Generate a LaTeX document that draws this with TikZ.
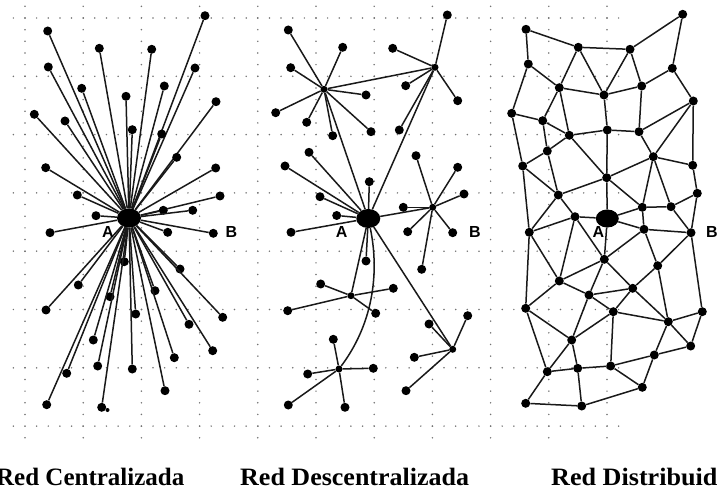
\documentclass[tikz,border=0pt]{standalone}
\usepackage{fontspec}
\setmainfont{Liberation Serif}
\newfontfamily\labsans{Liberation Sans}
\usetikzlibrary{shapes.geometric}
\begin{document}
\begin{tikzpicture}[x=1pt,y=-1pt,
 leaf/.style={circle,fill=black,inner sep=0pt,minimum size=9pt},
 sub/.style={circle,fill=black,inner sep=0pt,minimum size=7pt},
 tiny/.style={circle,fill=black,inner sep=0pt,minimum size=4pt},
 hubnode/.style={ellipse,fill=black,inner sep=0pt,minimum width=24pt,minimum height=19pt},
 link/.style={draw=black!90,line width=1.5pt},
 lab/.style={font=\labsans\bfseries\fontsize{16}{16}\selectfont,inner sep=0pt},
 title/.style={font=\bfseries\fontsize{25}{25}\selectfont,anchor=base west,inner sep=0pt},
 griddot/.style={fill=black!55}]
\useasboundingbox (0,0) rectangle (718,489);
% dotted grid
\foreach \r in {0,...,7} \foreach \j in {-1,...,51}
  \fill[griddot] ({25+11.64*\j},{18+58.3*\r}) circle (0.85pt);
\foreach \c in {0,...,10} \foreach \j in {-1,...,36}
  \fill[griddot] ({25+58.2*\c},{18+11.66*\j}) circle (0.85pt);

% ---------------- centralized ----------------
\node[hubnode] (ch) at (129,218) {};
\foreach \n/\x/\y in {1/205/15.7,2/47.7/31,3/99.3/48.3,4/151.7/49.3,5/48.3/67,6/195/68,
 7/81.7/88.3,8/164.3/86,9/126/96.3,10/216/101.7,11/34.3/114.3,12/65/121,13/132.3/129.7,
 14/161.7/134,15/176.7/157.3,16/45.7/167.7,17/215.7/168,18/77.3/195,19/220/196,
 20/163.3/210.3,21/192.7/210.3,22/96/215.7,24/50/232.7,25/167.7/232.3,26/213.3/233.3,
 27/124.3/261.7,28/180/269,29/78.3/285,30/110/296.7,31/155/290.7,32/46/310,
 33/135.7/314,34/222.7/317.3,35/189/324.3,36/93.3/340,37/212.7/350.7,38/174.3/357.7,
 39/97.7/366,40/132.3/369,41/66.7/373.3,42/165/390.7,43/46.7/404.7,44/101.7/407.3}
{
  \node[leaf] (c\n) at (\x,\y) {};
  \draw[link] (ch) -- (c\n);
}
\node[tiny] (cx) at (107.5,410) {};
\node[lab] (ca) at (108,232) {A};
\node[lab] (cb) at (231.5,232) {B};

% ---------------- decentralized ----------------
\node[hubnode] (m) at (368.3,218.5) {};
\node[sub] (h1) at (324,89.3) {};
\node[sub] (h2) at (435,67.3) {};
\node[sub] (h3) at (432.7,207.3) {};
\node[sub] (h4) at (351,295.7) {};
\node[sub] (h5) at (339,369) {};
\node[sub] (h6) at (452.7,349.3) {};
\draw[link] (m) -- (h1);
\draw[link] (m) -- (h2);
\draw[link] (m) -- (h3);
\draw[link] (m) -- (h4);
\draw[link] (m) -- (h6);
\draw[link] (h1) -- (h2);
\draw[link] (m) .. controls (380,275) and (372,325) .. (h5);
\foreach \n/\x/\y in {1/288.3/30,2/342.7/47.3,3/290.7/67.7,4/366/95,5/275.7/112.7,
 6/306.7/122.3,7/332.7/135.7,8/371/131.7}
{ \node[leaf] (ha\n) at (\x,\y) {}; \draw[link] (h1) -- (ha\n); }
\foreach \n/\x/\y in {1/447.3/15,2/392.7/48.3,3/405.7/85.7,4/457.7/100.7,5/399.3/130}
{ \node[leaf] (hb\n) at (\x,\y) {}; \draw[link] (h2) -- (hb\n); }
\foreach \n/\x/\y in {1/309/152.3,2/285/166,3/369.3/181.7,4/320/196.7,5/336.7/215.5,
 6/291/232.3,7/366/261}
{ \node[leaf] (ma\n) at (\x,\y) {}; \draw[link] (m) -- (ma\n); }
\foreach \n/\x/\y in {1/416/155.7,2/457.7/167.3,3/464/194,4/403.3/207.3,5/407.7/231.7,
 6/452.7/232.7,7/421.7/269.3}
{ \node[leaf] (hc\n) at (\x,\y) {}; \draw[link] (h3) -- (hc\n); }
\foreach \n/\x/\y in {1/320.7/284,2/393.3/288.3,3/287.7/310.7,4/375.7/313.3}
{ \node[leaf] (hd\n) at (\x,\y) {}; \draw[link] (h4) -- (hd\n); }
\foreach \n/\x/\y in {1/333.3/339.3,2/307.7/374,3/373.3/368.3,4/288.3/405,5/345/407.3}
{ \node[leaf] (he\n) at (\x,\y) {}; \draw[link] (h5) -- (he\n); }
\foreach \n/\x/\y in {1/467.7/315.7,2/429/324,3/414.3/357.3,4/406/390.7}
{ \node[leaf] (hf\n) at (\x,\y) {}; \draw[link] (h6) -- (hf\n); }
\node[lab] (ma) at (341.7,232) {A};
\node[lab] (mb) at (475,232) {B};

% ---------------- distributed ----------------
\node[hubnode,minimum width=23pt,minimum height=18pt] (da) at (607.3,218.5) {};
\foreach \n/\x/\y in {1/526/29.3,2/682.7/14.3,3/578.3/47.3,4/630/49.3,5/528.3/64,
 6/672.3/68.3,7/559.3/87.7,8/604/95,9/641.7/86,10/693.3/101,11/511.7/113.3,
 12/542.7/120.7,13/569.3/135.3,14/607.3/130,15/639/131.7,16/547.3/151,17/653.3/156.7,
 18/522.7/166,19/692.7/165.3,20/606.7/177.7,21/558.3/195,22/697.3/193.3,
 23/642.3/207.3,24/671/206.7,25/575/216.7}
{ \node[leaf] (d\n) at (\x,\y) {}; }
\foreach \n/\x/\y in {1/529.3/232.3,2/644/229.3,3/691/232.7,4/604.3/259.3,5/657.7/265.7,
 6/559.3/281,7/632.7/288.3,8/589/295,9/525.7/308.3,10/613.3/311.7,11/702.3/311.7,
 12/668.3/321.7,13/571.7/340,14/690.7/346,15/654.3/355,16/547.3/371.7,17/577.7/368.3,
 18/610.7/366,19/642.3/387.3,20/525.7/403.3,21/581.7/406}
{ \node[leaf] (e\n) at (\x,\y) {}; }
\foreach \a/\b in {d1/d5,d1/d3,d3/d4,d4/d2,d2/d6,d3/d7,d3/d8,d4/d8,d4/d9,d6/d9,d6/d10,
 d5/d7,d5/d11,d7/d8,d8/d9,d7/d12,d7/d13,d8/d14,d9/d15,d10/d15,d10/d17,d10/d19,
 d11/d12,d11/d18,d12/d13,d12/d16,d13/d14,d13/d16,d13/d20,d14/d15,d14/d20,d15/d17,
 d16/d18,d16/d21,d18/d21,d18/e1,d20/d21,d17/d20,d17/d19,d17/d23,d17/d24,d19/d22,
 d20/da,d20/d23,d21/d25,d22/d24,d23/d24,d25/da,da/d23,d24/e3,d22/e3,
 e1/d21,e1/d25,d25/e6,d25/e4,da/e4,da/e2,d23/e2,e2/e3,e2/e4,e2/e5,e3/e5,e3/e11,
 e1/e6,e1/e9,e4/e6,e4/e8,e4/e7,e5/e7,e5/e12,e6/e8,e6/e9,e7/e8,e7/e10,e7/e12,
 e8/e10,e8/e13,e9/e13,e9/e16,e10/e13,e10/e12,e10/e18,e11/e12,e11/e14,e12/e14,
 e12/e15,e13/e16,e13/e17,e14/e15,e15/e18,e15/e19,e16/e17,e16/e20,e17/e18,e17/e21,
 e18/e19,e19/e21,e20/e21}
{ \draw[link] (\a) -- (\b); }
\node[lab] (dla) at (598.3,232) {A};
\node[lab] (dlb) at (712,232) {B};

% titles
\node[title] (t1) at (-4,485) {Red Centralizada};
\node[title,xscale=1.04] (t2) at (240,485) {Red Descentralizada};
\node[title,xscale=1.045] (t3) at (551,485) {Red Distribuid};
\end{tikzpicture}
\end{document}
